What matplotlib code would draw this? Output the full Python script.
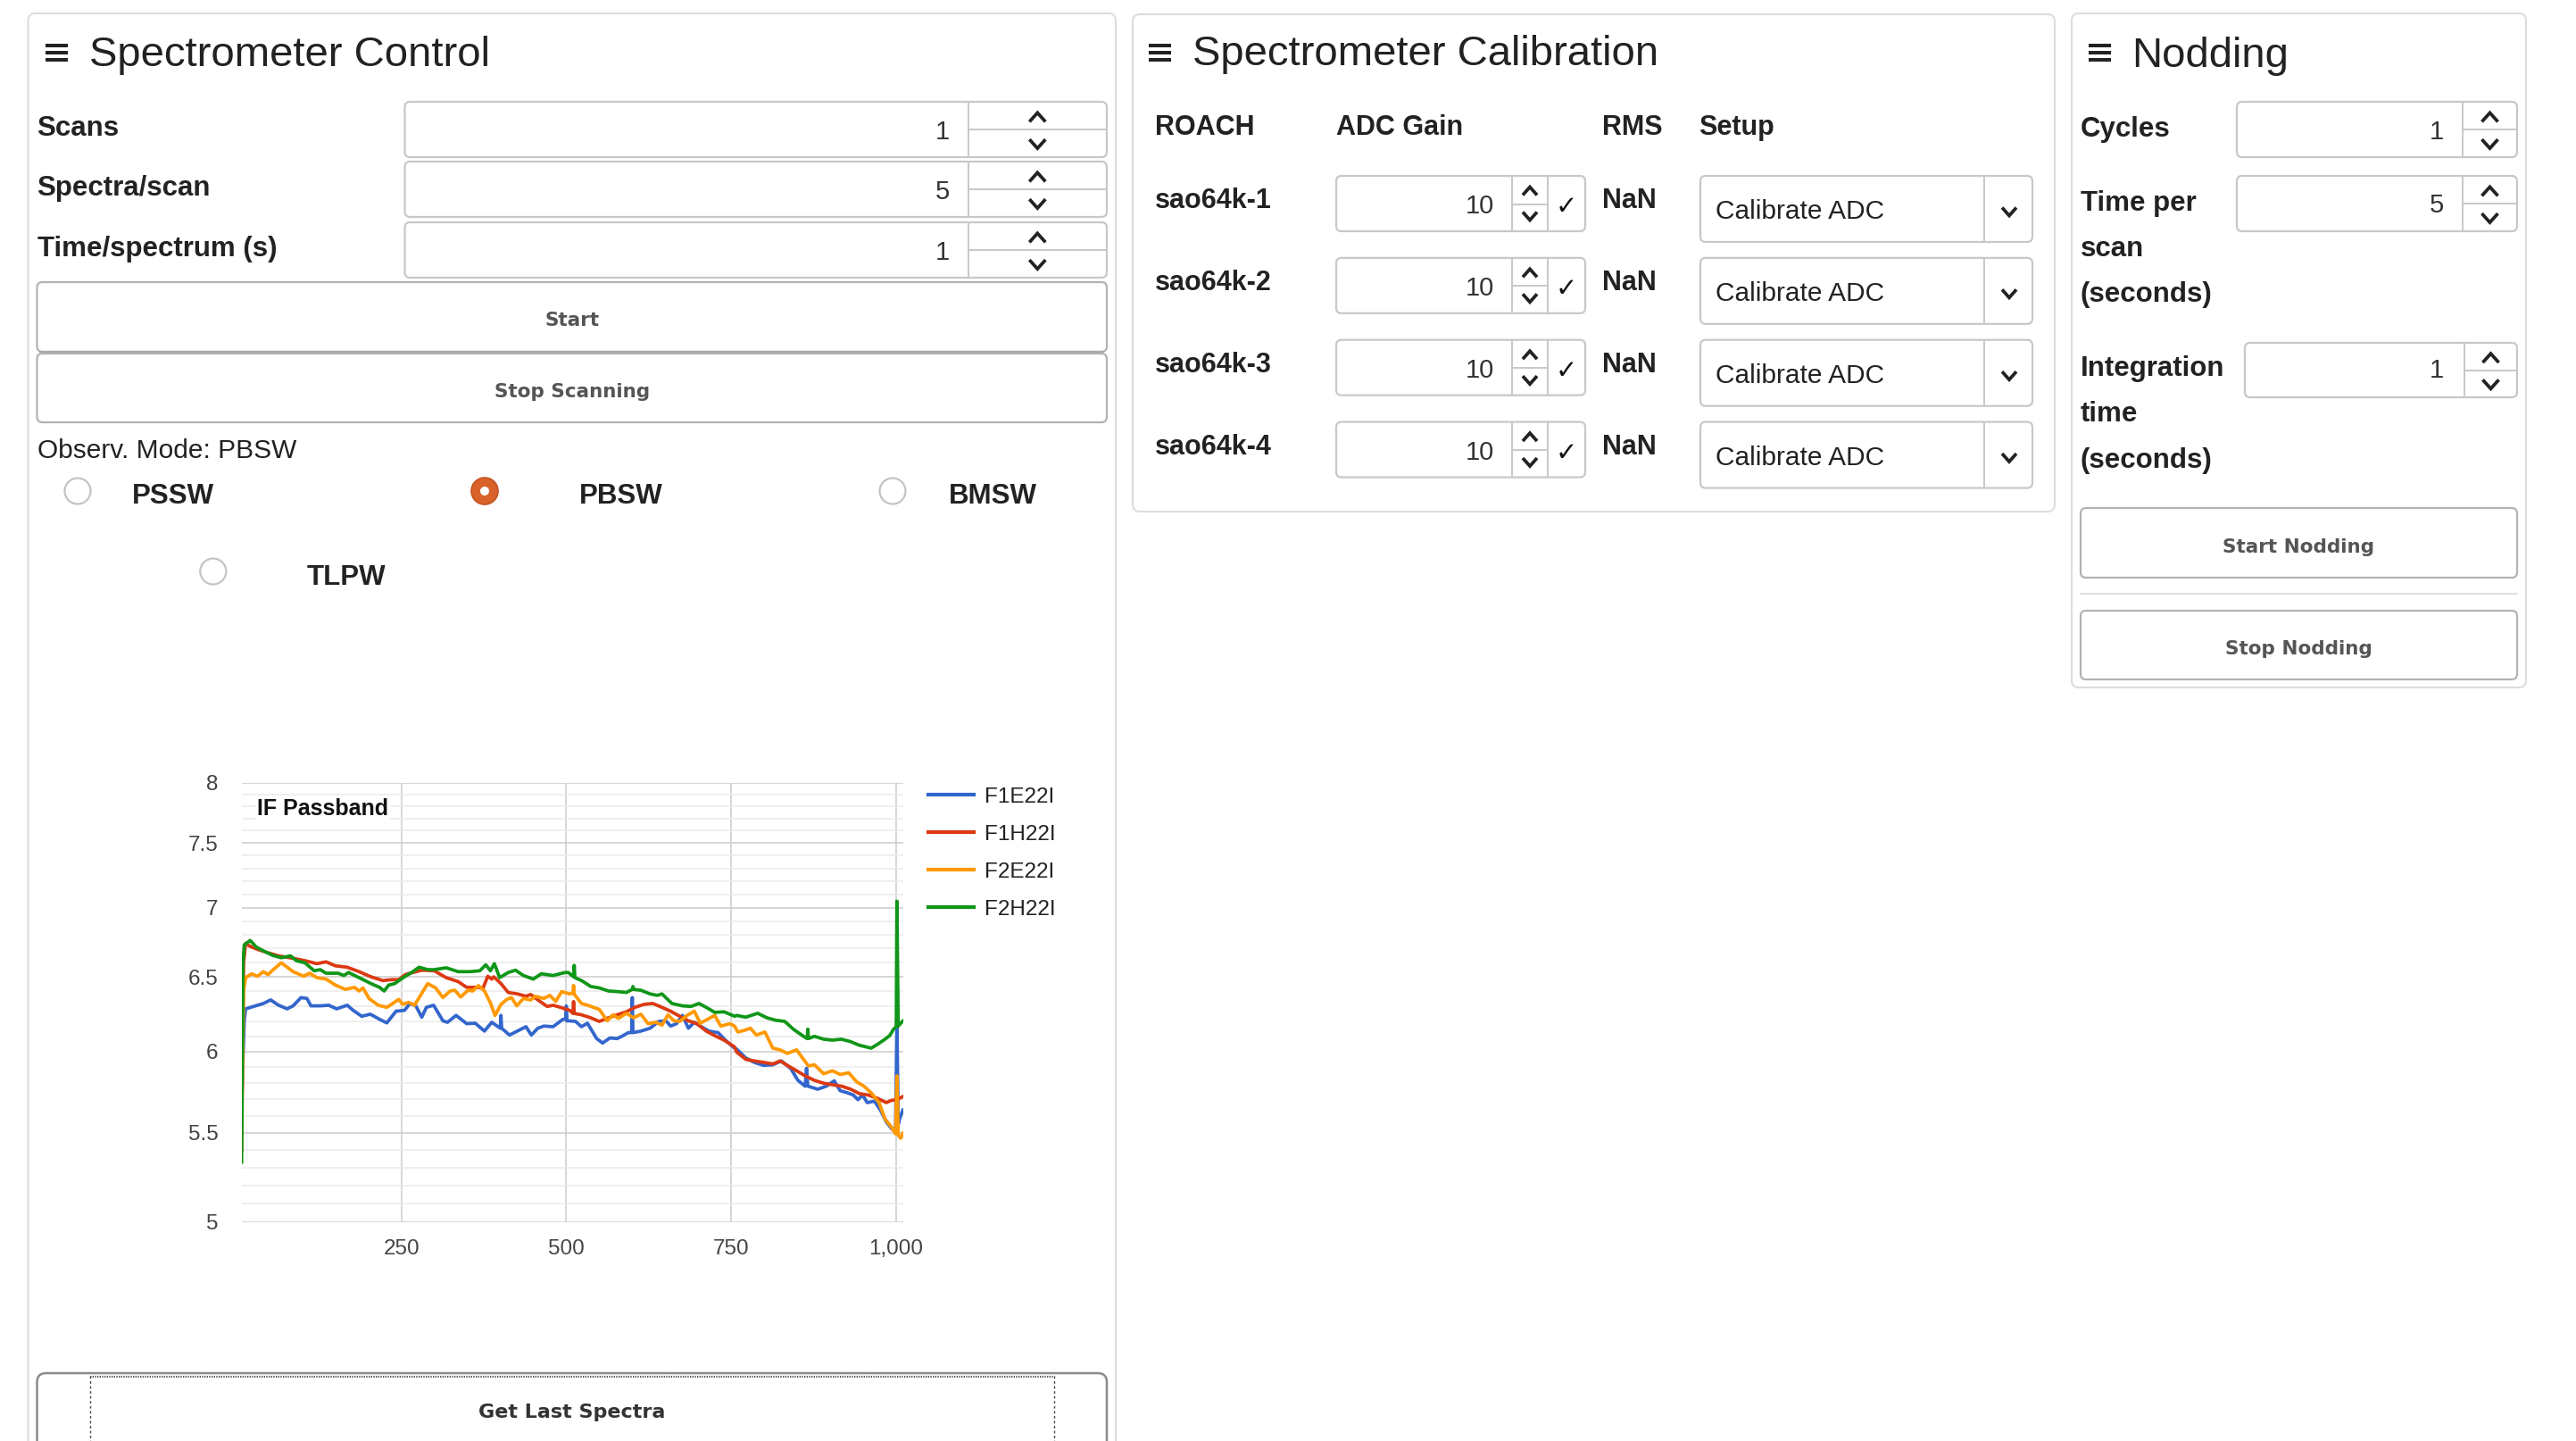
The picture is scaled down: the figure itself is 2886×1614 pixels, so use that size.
import numpy as np
import matplotlib
matplotlib.use('Agg')
import matplotlib.pyplot as plt
from matplotlib.patches import FancyBboxPatch, Circle
from matplotlib.ticker import FixedLocator, NullFormatter

plt.rcParams['font.family'] = ['Liberation Sans', 'DejaVu Sans']

# ---- IF passband data (channel, power) ----
series_names = ['F1E22I', 'F1H22I', 'F2E22I', 'F2H22I']
series_colors = ['#3366cc', '#dc3912', '#ff9900', '#109618']

f1e22i_x = [8, 12, 14, 21, 32, 41, 52, 64, 77, 86, 98, 107, 113, 127, 140, 152, 168, 177, 190, 203,
            217, 228, 242, 255, 263, 272, 281, 288, 299, 313, 320, 333, 349, 362, 376, 387, 400, 401, 402, 414,
            428, 439, 447, 457, 466, 480, 495, 499, 500, 501, 503, 514, 523, 532, 546, 555, 566, 577, 586, 594,
            599, 600, 601, 613, 627, 640, 651, 658, 667, 676, 685, 694, 703, 716, 730, 741, 755, 758, 772, 785,
            799, 813, 826, 840, 851, 862, 864, 866, 881, 894, 906, 915, 926, 935, 942, 949, 956, 967, 976, 985,
            994, 999, 1001, 1003, 1005, 1010]
f1e22i_y = [5.70, 6.20, 6.28, 6.29, 6.305, 6.317, 6.341, 6.305, 6.281, 6.301, 6.357, 6.351, 6.301, 6.301, 6.305, 6.281, 6.305, 6.271, 6.231, 6.245,
            6.211, 6.187, 6.265, 6.271, 6.317, 6.301, 6.225, 6.291, 6.305, 6.201, 6.191, 6.237, 6.182, 6.185, 6.133, 6.191, 6.152, 6.237, 6.152, 6.107,
            6.138, 6.162, 6.107, 6.152, 6.166, 6.162, 6.211, 6.21, 6.30, 6.20, 6.201, 6.197, 6.162, 6.185, 6.084, 6.055, 6.088, 6.084, 6.103, 6.123,
            6.123, 6.357, 6.123, 6.133, 6.152, 6.197, 6.201, 6.166, 6.182, 6.237, 6.152, 6.191, 6.166, 6.133, 6.123, 6.074, 6.022, 6.016, 5.959, 5.931,
            5.912, 5.916, 5.940, 5.893, 5.818, 5.782, 5.893, 5.782, 5.763, 5.782, 5.815, 5.754, 5.741, 5.727, 5.699, 5.727, 5.681, 5.690, 5.636, 5.565,
            5.520, 5.529, 6.20, 5.55, 5.582, 5.636]

f1h22i_x = [8, 11, 14, 21, 32, 46, 64, 86, 104, 122, 136, 150, 168, 186, 204, 222, 235, 246, 256, 263,
            281, 300, 318, 336, 349, 363, 374, 381, 387, 390, 401, 412, 426, 439, 446, 457, 471, 480, 491, 505,
            510, 511, 512, 523, 537, 550, 564, 577, 591, 604, 618, 631, 645, 658, 672, 685, 698, 712, 725, 739,
            755, 758, 772, 785, 799, 813, 824, 835, 849, 862, 876, 890, 903, 917, 931, 944, 958, 971, 985, 992,
            1001, 1010]
f1h22i_y = [5.40, 6.60, 6.737, 6.715, 6.694, 6.672, 6.647, 6.630, 6.613, 6.592, 6.605, 6.577, 6.567, 6.536, 6.500, 6.474, 6.480, 6.480, 6.515, 6.525,
            6.546, 6.542, 6.494, 6.467, 6.427, 6.427, 6.423, 6.504, 6.484, 6.50, 6.453, 6.392, 6.382, 6.366, 6.378, 6.341, 6.297, 6.305, 6.291, 6.271,
            6.251, 6.33, 6.25, 6.241, 6.221, 6.197, 6.221, 6.241, 6.261, 6.291, 6.311, 6.317, 6.291, 6.265, 6.231, 6.201, 6.182, 6.133, 6.103, 6.074,
            6.030, 5.997, 5.950, 5.940, 5.931, 5.921, 5.940, 5.912, 5.878, 5.846, 5.818, 5.800, 5.791, 5.782, 5.763, 5.736, 5.727, 5.708, 5.681, 5.694,
            5.699, 5.718]

f2e22i_x = [8, 11, 14, 23, 32, 41, 48, 55, 68, 80, 86, 102, 111, 122, 136, 150, 165, 179, 186, 192,
            201, 215, 228, 235, 246, 252, 261, 270, 290, 302, 313, 324, 331, 340, 351, 358, 367, 376, 385, 392,
            401, 410, 417, 425, 435, 446, 453, 466, 475, 484, 493, 505, 510, 511, 512, 523, 535, 550, 562, 571,
            579, 591, 602, 613, 624, 636, 645, 654, 663, 672, 683, 694, 703, 714, 725, 734, 748, 755, 760, 770,
            779, 788, 801, 813, 824, 835, 849, 858, 867, 876, 890, 903, 915, 928, 940, 951, 962, 974, 983, 992,
            999, 1001, 1003, 1007, 1010]
f2e22i_y = [5.55, 6.40, 6.494, 6.521, 6.504, 6.536, 6.515, 6.546, 6.598, 6.557, 6.536, 6.504, 6.525, 6.494, 6.484, 6.443, 6.413, 6.427, 6.402, 6.423,
            6.351, 6.305, 6.291, 6.311, 6.345, 6.311, 6.325, 6.305, 6.453, 6.423, 6.357, 6.402, 6.407, 6.361, 6.407, 6.402, 6.439, 6.402, 6.321, 6.237,
            6.311, 6.345, 6.357, 6.301, 6.351, 6.341, 6.366, 6.351, 6.372, 6.331, 6.398, 6.382, 6.386, 6.44, 6.38, 6.317, 6.301, 6.277, 6.201, 6.241,
            6.217, 6.251, 6.221, 6.245, 6.182, 6.191, 6.172, 6.241, 6.201, 6.197, 6.237, 6.265, 6.185, 6.211, 6.237, 6.166, 6.182, 6.166, 6.127, 6.138,
            6.152, 6.107, 6.127, 6.022, 6.011, 5.988, 6.011, 5.959, 5.908, 5.916, 5.859, 5.878, 5.855, 5.865, 5.809, 5.782, 5.741, 5.681, 5.582, 5.538,
            5.494, 5.846, 5.486, 5.468, 5.498]

f2h22i_x = [8, 10, 12, 21, 30, 41, 55, 68, 82, 91, 104, 118, 127, 136, 154, 163, 170, 186, 204, 217,
            224, 231, 240, 256, 264, 277, 290, 300, 318, 336, 354, 369, 378, 385, 391, 399, 412, 423, 435, 450,
            462, 480, 498, 503, 511, 512, 513, 523, 537, 550, 564, 577, 591, 600, 601, 602, 613, 627, 638, 645,
            660, 676, 689, 701, 712, 725, 739, 755, 758, 772, 790, 804, 817, 831, 844, 858, 865, 866, 867, 876,
            890, 903, 917, 931, 944, 962, 971, 981, 990, 996, 1000, 1001, 1003, 1010]
f2h22i_y = [5.33, 6.60, 6.726, 6.758, 6.711, 6.683, 6.651, 6.634, 6.647, 6.613, 6.598, 6.542, 6.550, 6.525, 6.525, 6.509, 6.530, 6.494, 6.453, 6.427,
            6.402, 6.443, 6.453, 6.504, 6.525, 6.567, 6.550, 6.550, 6.563, 6.536, 6.536, 6.542, 6.584, 6.542, 6.592, 6.494, 6.530, 6.546, 6.509, 6.484,
            6.521, 6.509, 6.530, 6.530, 6.50, 6.58, 6.494, 6.474, 6.433, 6.423, 6.402, 6.398, 6.392, 6.413, 6.433, 6.413, 6.407, 6.382, 6.372, 6.382,
            6.317, 6.301, 6.297, 6.317, 6.291, 6.257, 6.261, 6.231, 6.237, 6.225, 6.251, 6.221, 6.205, 6.197, 6.146, 6.103, 6.084, 6.146, 6.084, 6.099,
            6.080, 6.074, 6.080, 6.064, 6.041, 6.022, 6.045, 6.074, 6.103, 6.146, 6.162, 7.048, 6.166, 6.20]

y_ticks = [5, 5.5, 6, 6.5, 7, 7.5, 8]
y_tick_labels = ['5', '5.5', '6', '6.5', '7', '7.5', '8']
x_ticks = [250, 500, 750, 1000]
x_tick_labels = ['250', '500', '750', '1,000']

# ---- form contents ----
control_labels = ['Scans', 'Spectra/scan', 'Time/spectrum (s)']
control_values = ['1', '5', '1']
obs_modes = ['PSSW', 'PBSW', 'BMSW', 'TLPW']
obs_selected = 'PBSW'
calib_headers = ['ROACH', 'ADC Gain', 'RMS', 'Setup']
roach_names = ['sao64k-1', 'sao64k-2', 'sao64k-3', 'sao64k-4']
adc_gains = ['10', '10', '10', '10']
rms_values = ['NaN', 'NaN', 'NaN', 'NaN']
setup_choice = ['Calibrate ADC'] * 4

W, H = 2886, 1614
fig = plt.figure(figsize=(W / 100, H / 100), dpi=100)
bg = fig.add_axes([0, 0, 1, 1])
bg.set_xlim(0, W)
bg.set_ylim(H, 0)
bg.axis('off')

TXT = '#222222'
BTN_TXT = '#555555'


def box(x0, y0, x1, y1, r=6, ec='#cccccc', lw=1.5, fc='white', z=1):
    bg.add_patch(FancyBboxPatch((x0, y0), x1 - x0, y1 - y0,
                                boxstyle=f'round,pad=0,rounding_size={r}',
                                ec=ec, fc=fc, lw=lw, zorder=z))


def vline(x, y0, y1, color='#cccccc', lw=1.2, z=2, ls='-'):
    bg.plot([x, x], [y0, y1], color=color, lw=lw, zorder=z, ls=ls, solid_capstyle='butt')


def hline(y, x0, x1, color='#cccccc', lw=1.2, z=2, ls='-'):
    bg.plot([x0, x1], [y, y], color=color, lw=lw, zorder=z, ls=ls, solid_capstyle='butt')


def chevron(cx, cy, up, w=18, h=10, lw=2.7, color='#222222'):
    if up:
        ys = [cy + h / 2, cy - h / 2, cy + h / 2]
    else:
        ys = [cy - h / 2, cy + h / 2, cy - h / 2]
    bg.plot([cx - w / 2, cx, cx + w / 2], ys, color=color, lw=lw, zorder=3,
            solid_joinstyle='miter', solid_capstyle='butt')


def txt(x, y, s, size=16, weight='normal', color=TXT, ha='left', family=None):
    kw = {}
    if family:
        kw['family'] = family
    bg.text(x, y, s, fontsize=size, fontweight=weight, color=color, ha=ha, va='baseline', zorder=4, **kw)


def burger(x0, y0):
    for dy in (2.5, 11, 19):
        bg.add_patch(plt.Rectangle((x0, y0 + dy - 2), 25, 4.2, color='#222222', zorder=3, lw=0))


def spin_box(x0, y0, x1, y1, xdiv, value, val_right, val_base):
    box(x0, y0, x1, y1, r=6, ec='#c8c8c8', lw=1.6)
    vline(xdiv, y0, y1, color='#c8c8c8', lw=1.4)
    hline((y0 + y1) / 2, xdiv, x1, color='#c8c8c8', lw=1.4)
    cx = (xdiv + x1) / 2
    hgt = y1 - y0
    chevron(cx, y0 + 0.28 * hgt, True)
    chevron(cx, y0 + 0.76 * hgt, False)
    txt(val_right, val_base, value, size=21, color='#333333', ha='right')


def button(x0, y0, x1, y1, label, base, color=BTN_TXT, ec='#b3b3b3'):
    box(x0, y0, x1, y1, r=6, ec=ec, lw=1.6)
    txt((x0 + x1) / 2, base, label, size=15.5, weight='bold', color=color, ha='center', family='DejaVu Sans')


# ================= panel 1: Spectrometer Control =================
box(31.5, 15, 1250, 1700, r=8, ec='#dddddd', lw=1.5)
burger(51, 48)
txt(99.5, 74, 'Spectrometer Control', size=34)

row_tops = [114, 181, 249]
for lab, val, top in zip(control_labels, control_values, row_tops):
    txt(41.5, top + 38, lab, size=22.5, weight='bold')
    spin_box(453.5, top, 1240, top + 62, 1084.6, val, 1064, top + 42)

button(41.5, 316, 1240, 394, 'Start', 365)
hline(394, 44, 1237, color='#aaaaaa', lw=1.6)
button(41.5, 396, 1240, 473, 'Stop Scanning', 445)

txt(41.5, 513, 'Observ. Mode: ' + obs_selected, size=21.5)

radio_pos = [(87, 550, 147.6, 564), (543, 550, 648.4, 564), (1000, 550, 1063, 564), (238.8, 640, 344, 655)]
for mode, (cx, cy, tx, tb) in zip(obs_modes, radio_pos):
    if mode == obs_selected:
        bg.add_patch(Circle((cx, cy), 15, fc='#d9622b', ec='#c4531f', lw=1.2, zorder=3))
        bg.add_patch(Circle((cx, cy), 5, fc='white', ec='none', zorder=4))
    else:
        bg.add_patch(Circle((cx, cy), 14.5, fc='white', ec='#c4c4c4', lw=1.6, zorder=3))
    txt(tx, tb, mode, size=22.5, weight='bold')

# Get Last Spectra button (runs off the bottom)
box(41.5, 1538, 1240, 1700, r=10, ec='#8a8a8a', lw=1.8)
hline(1541.5, 101, 1181, color='#555555', lw=1.6, ls=(0, (0.6, 0.6)))
vline(101, 1541, 1614, color='#444444', lw=1.0, ls=(0, (2, 2)))
vline(1181, 1541, 1614, color='#444444', lw=1.0, ls=(0, (2, 2)))
txt(640.7, 1588, 'Get Last Spectra', size=16, weight='bold', color='#333333', ha='center', family='DejaVu Sans')

# ================= panel 2: Spectrometer Calibration =================
box(1269, 16, 2302, 573, r=8, ec='#dddddd', lw=1.5)
burger(1287, 48)
txt(1336, 73, 'Spectrometer Calibration', size=34)

for head, hx in zip(calib_headers, [1294, 1497, 1795, 1903]):
    txt(hx, 151, head, size=22, weight='bold')

row_step = 91.85
for i, (name, gain, rms, setup) in enumerate(zip(roach_names, adc_gains, rms_values, setup_choice)):
    dy = i * row_step
    txt(1294, 233.4 + dy, name, size=22, weight='bold')
    box(1497, 197 + dy, 1776, 259 + dy, r=6, ec='#c8c8c8', lw=1.6)
    vline(1694, 197 + dy, 259 + dy, color='#c8c8c8', lw=1.4)
    vline(1734, 197 + dy, 259 + dy, color='#c8c8c8', lw=1.4)
    hline(228.5 + dy, 1694, 1734, color='#c8c8c8', lw=1.4)
    chevron(1714, 214 + dy, True, w=16, h=9)
    chevron(1714, 242 + dy, False, w=16, h=9)
    txt(1674, 239 + dy, gain, size=21, color='#333333', ha='right')
    bg.text(1755, 232 + dy, '\u2713', fontsize=21, family='DejaVu Sans', fontweight='bold',
            color='#111111', ha='center', va='center', zorder=4)
    txt(1795, 233.4 + dy, rms, size=22, weight='bold')
    box(1905, 197 + dy, 2277, 271 + dy, r=6, ec='#c8c8c8', lw=1.6)
    vline(2223, 197 + dy, 271 + dy, color='#c8c8c8', lw=1.4)
    txt(1922, 245 + dy, setup, size=21.5, color='#222222')
    chevron(2251, 237 + dy, False, w=16, h=9)

# ================= panel 3: Nodding =================
box(2321, 15, 2830, 770, r=8, ec='#dddddd', lw=1.5)
burger(2340, 48)
txt(2388, 75, 'Nodding', size=34)

txt(2331, 153, 'Cycles', size=22.5, weight='bold')
spin_box(2506, 114, 2820, 176, 2759, '1', 2738, 156)
for line, base in zip(['Time per', 'scan', '(seconds)'], [236, 287, 338]):
    txt(2331, base, line, size=22.5, weight='bold')
spin_box(2506, 197, 2820, 259, 2759, '5', 2738, 238)
for line, base in zip(['Integration', 'time', '(seconds)'], [421, 472, 524]):
    txt(2331, base, line, size=22.5, weight='bold')
spin_box(2515, 384, 2820, 445, 2761, '1', 2738, 423)

button(2331, 569, 2820, 647, 'Start Nodding', 619)
hline(665, 2330, 2821, color='#dddddd', lw=1.4)
button(2331, 684, 2820, 761, 'Stop Nodding', 733)

# ================= IF passband chart =================
L, R, T, B = 270.7, 1011.5, 876.8, 1368.6
ax = fig.add_axes([L / W, (H - B) / H, (R - L) / W, (B - T) / H])
ax.set_facecolor('none')
ax.set_yscale('log')

all_x = [f1e22i_x, f1h22i_x, f2e22i_x, f2h22i_x]
all_y = [f1e22i_y, f1h22i_y, f2e22i_y, f2h22i_y]
for xs, ys, name, col in zip(all_x, all_y, series_names, series_colors):
    ax.plot(xs, ys, color=col, lw=2.7, label=name, solid_joinstyle='round', zorder=3)

ax.set_xlim(8, 1010)
ax.set_ylim(5, 8)
ax.yaxis.set_major_locator(FixedLocator(y_ticks))
ax.set_yticklabels(y_tick_labels)
minor = [round(v, 1) for v in np.arange(5.1, 8.0, 0.1) if abs(v * 2 - round(v * 2)) > 1e-6]
ax.yaxis.set_minor_locator(FixedLocator(minor))
ax.yaxis.set_minor_formatter(NullFormatter())
ax.set_xticks(x_ticks)
ax.set_xticklabels(x_tick_labels)
ax.xaxis.set_minor_locator(FixedLocator([]))

ax.grid(which='major', axis='both', color='#cccccc', lw=1.1, zorder=0)
ax.grid(which='minor', axis='y', color='#ebebeb', lw=1.1, zorder=0)
ax.set_axisbelow(True)
for s in ax.spines.values():
    s.set_visible(False)
ax.tick_params(which='both', length=0, labelsize=17.5, labelcolor='#444444')
ax.tick_params(axis='y', pad=19)
ax.tick_params(axis='x', pad=14)

ax.text((288 - L) / (R - L), (B - 913) / (B - T), 'IF Passband', transform=ax.transAxes,
        fontsize=18, fontweight='bold', color='#111111', va='baseline', ha='left',
        bbox=dict(fc='white', ec='none', pad=1))

leg = ax.legend(loc='upper left', bbox_to_anchor=(1 + 28 / (R - L), 0.99), frameon=False,
                fontsize=17.5, handlelength=2.1, handletextpad=0.5, labelspacing=0.82,
                borderaxespad=0, borderpad=0)
for t in leg.get_texts():
    t.set_color('#222222')
for h in leg.get_lines():
    h.set_linewidth(3.0)

fig.savefig('out.png', dpi=100, facecolor='white')
